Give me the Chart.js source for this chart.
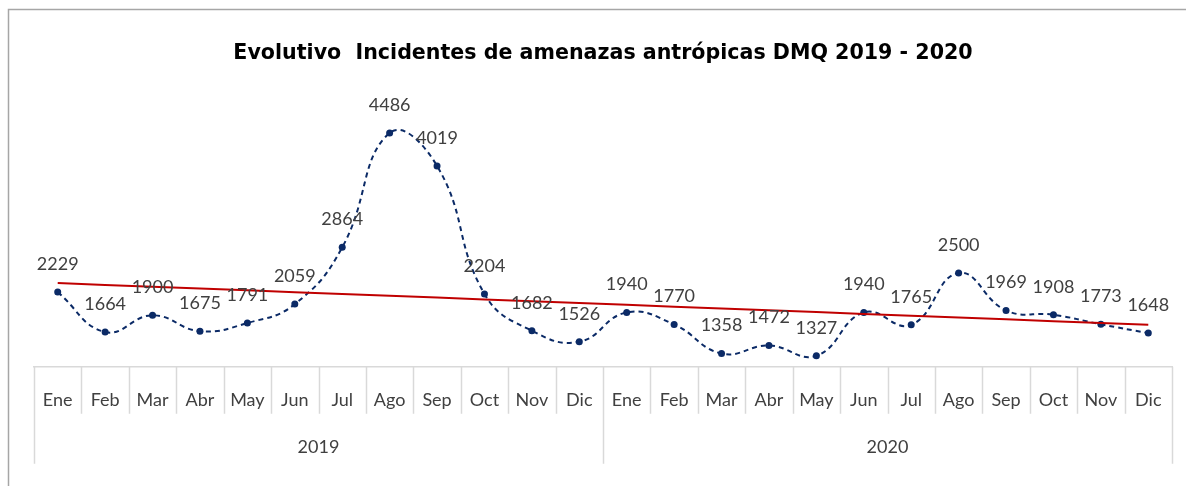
<!DOCTYPE html>
<html lang="es">
<head>
    <meta charset="UTF-8">
    <title>Evolutivo Incidentes de amenazas antrópicas DMQ 2019 - 2020</title>
    <style>
        body {
            margin: 0;
            padding: 0;
            background: #ffffff;
        }
        .wrap {
            width: 1186px;
            height: 486px;
            position: relative;
        }
    </style>
</head>
<body>
    <div class="wrap">
        <canvas id="incidentsChart" width="1186" height="486"></canvas>
    </div>

    <script src="https://cdn.jsdelivr.net/npm/chart.js"></script>
    <script>
        // Monthly incidents, Jan 2019 - Dec 2020
        const months = ['Ene', 'Feb', 'Mar', 'Abr', 'May', 'Jun', 'Jul', 'Ago', 'Sep', 'Oct', 'Nov', 'Dic',
                        'Ene', 'Feb', 'Mar', 'Abr', 'May', 'Jun', 'Jul', 'Ago', 'Sep', 'Oct', 'Nov', 'Dic'];
        const years = ['2019', '2020'];
        const incidents2019 = [2229, 1664, 1900, 1675, 1791, 2059, 2864, 4486, 4019, 2204, 1682, 1526];
        const incidents2020 = [1940, 1770, 1358, 1472, 1327, 1940, 1765, 2500, 1969, 1908, 1773, 1648];

        const incidents = incidents2019.concat(incidents2020);

        // Linear trend line (least squares)
        function linearTrend(values) {
            const n = values.length;
            let sx = 0, sy = 0, sxy = 0, sxx = 0;
            values.forEach((v, i) => {
                sx += i; sy += v; sxy += i * v; sxx += i * i;
            });
            const slope = (n * sxy - sx * sy) / (n * sxx - sx * sx);
            const intercept = (sy - slope * sx) / n;
            return values.map((v, i) => intercept + slope * i);
        }
        const trend = linearTrend(incidents);

        const textFamily = 'Lato, "Noto Sans", sans-serif';
        const gridColor = '#d9d9d9';

        // Gray frame on top and left edges
        const framePlugin = {
            id: 'frame',
            beforeDraw(chart) {
                const ctx = chart.ctx;
                ctx.save();
                ctx.strokeStyle = '#a6a6a6';
                ctx.lineWidth = 1.5;
                ctx.beginPath();
                ctx.moveTo(8.5, chart.height);
                ctx.lineTo(8.5, 9.5);
                ctx.lineTo(chart.width, 9.5);
                ctx.stroke();
                ctx.restore();
            }
        };

        // Cell separators for the two-level category axis (months / years)
        const axisCells = {
            id: 'axisCells',
            afterDraw(chart) {
                const ctx = chart.ctx;
                const x = chart.scales.x;
                const x2 = chart.scales.x2;
                const top = x.top;
                ctx.save();
                ctx.strokeStyle = gridColor;
                ctx.lineWidth = 1.5;
                ctx.beginPath();
                for (let i = 0; i <= months.length; i++) {
                    const px = Math.round(x.getPixelForValue(i - 0.5)) + 0.5;
                    ctx.moveTo(px, top);
                    ctx.lineTo(px, top + 47);
                }
                for (let i = 0; i <= years.length; i++) {
                    const px = Math.round(x2.getPixelForValue(i - 0.5)) + 0.5;
                    ctx.moveTo(px, top);
                    ctx.lineTo(px, top + 97);
                }
                ctx.stroke();
                ctx.restore();
            }
        };

        // Value labels above each point of the first dataset
        const valueLabels = {
            id: 'valueLabels',
            afterDatasetsDraw(chart) {
                const ctx = chart.ctx;
                const meta = chart.getDatasetMeta(0);
                ctx.save();
                ctx.font = '18px ' + textFamily;
                ctx.fillStyle = '#404040';
                ctx.textAlign = 'center';
                ctx.textBaseline = 'middle';
                meta.data.forEach((pt, i) => {
                    ctx.fillText(chart.data.datasets[0].data[i], pt.x, pt.y - 28);
                });
                ctx.restore();
            }
        };

        new Chart(document.getElementById('incidentsChart'), {
            type: 'line',
            data: {
                labels: months,
                datasets: [{
                    label: 'Incidentes',
                    data: incidents,
                    borderColor: '#0b2a66',
                    backgroundColor: '#0b2a66',
                    borderWidth: 2,
                    borderDash: [5, 4],
                    pointRadius: 3.5,
                    pointBorderWidth: 0,
                    tension: 0.45,
                    order: 1
                }, {
                    label: 'Tendencia',
                    data: trend,
                    borderColor: '#c00000',
                    borderWidth: 2,
                    pointRadius: 0,
                    tension: 0,
                    order: 0
                }]
            },
            options: {
                responsive: false,
                animation: false,
                layout: {
                    padding: { left: 34, right: 14, top: 0, bottom: 26 }
                },
                plugins: {
                    legend: { display: false },
                    tooltip: { enabled: false },
                    title: {
                        display: true,
                        text: 'Evolutivo  Incidentes de amenazas antrópicas DMQ 2019 - 2020',
                        color: '#000000',
                        font: { family: '"DejaVu Sans", sans-serif', size: 20.6, weight: 'bold' },
                        padding: { top: 41, bottom: 31 }
                    }
                },
                scales: {
                    x: {
                        offset: true,
                        grid: { display: false, drawTicks: false },
                        border: { display: true, color: gridColor, width: 1.5 },
                        ticks: {
                            color: '#404040',
                            font: { family: textFamily, size: 18 },
                            padding: 23,
                            autoSkip: false,
                            maxRotation: 0
                        }
                    },
                    x2: {
                        type: 'category',
                        position: 'bottom',
                        labels: years,
                        offset: true,
                        grid: { display: false, drawTicks: false },
                        border: { display: false },
                        ticks: {
                            color: '#404040',
                            font: { family: textFamily, size: 18 },
                            padding: 2,
                            maxRotation: 0
                        }
                    },
                    y: {
                        display: false,
                        min: 1170,
                        max: 5000
                    }
                }
            },
            plugins: [framePlugin, axisCells, valueLabels]
        });
    </script>
</body>
</html>
